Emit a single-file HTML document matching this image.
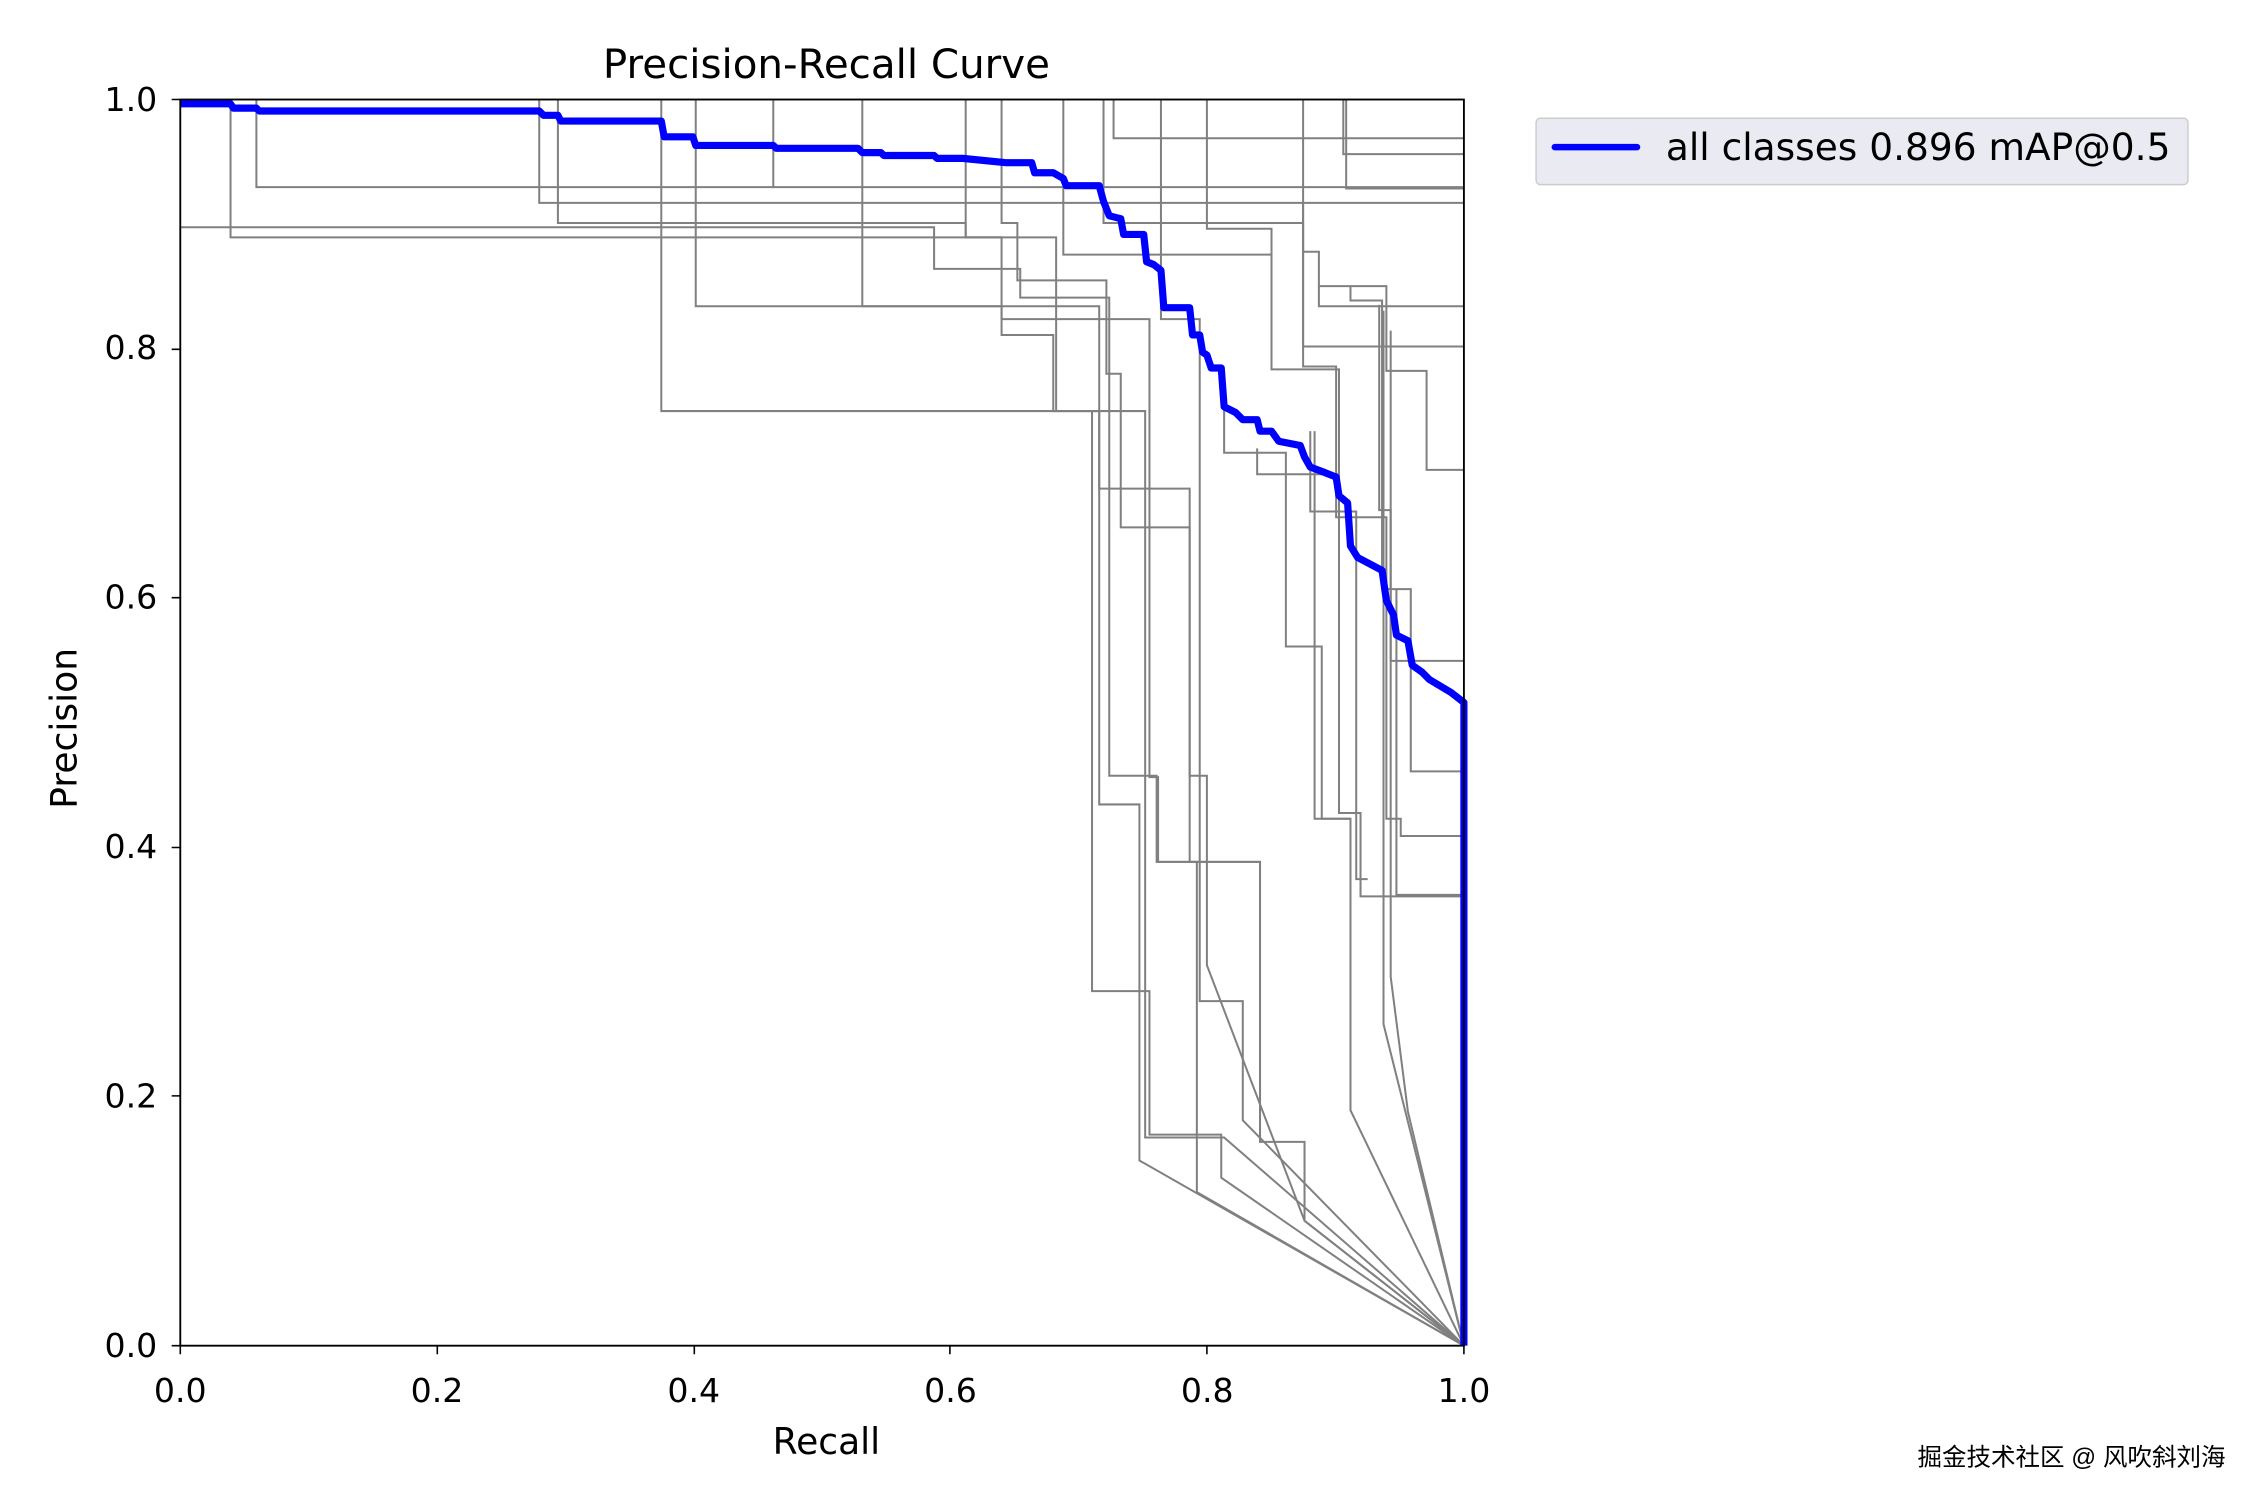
<!DOCTYPE html>
<html><head><meta charset="utf-8"><style>
html,body{margin:0;padding:0;background:#fff;}
svg{display:block;}
text{font-family:"DejaVu Sans","Liberation Sans",sans-serif;fill:#000;}
</style></head><body>
<svg width="2250" height="1500" viewBox="0 0 1560 1040" xmlns="http://www.w3.org/2000/svg">
<rect width="1560" height="1040" fill="#fff"/>
<g transform="translate(125,69) scale(0.9955,0.9954) translate(-125,-69)">
<g fill="none" stroke="#808080" stroke-width="1.4">
<path d="M125,158 H650 V187 H710 V207 H772 V540 H805 V600 H877 V795 H908 V850 L1019,937"/>
<path d="M160,69 V165 H697 V233 H733 V286 H765 V340 H828 V540 H840 V672 L908,850 L1019,937"/>
<path d="M178,69 V130 H1019"/>
<path d="M375,69 V141 H1019"/>
<path d="M388,69 V155 H672 V165 H697"/>
<path d="M460,69 V286 H735 V286 H797 V792 H852 L1019,937"/>
<path d="M484,69 V213 H697 V222 H800 V541 H806 V600 H833 V830 L1019,937"/>
<path d="M538,69 V130"/>
<path d="M600,69 V213 H765 V560 H793 V808 L1019,937"/>
<path d="M672,69 V165 H735 V286"/>
<path d="M697,69 V155 H708 V195 H770 V260 H780 V367 H828 V600 H877 V795"/>
<path d="M740,69 V177 H885 V175 V257 H932 V566 H947 V624 H1019"/>
<path d="M768,69 V155 H907 V255 H930 V360 H965 V570 H975 V582 H1019"/>
<path d="M775,69 V96 H1019"/>
<path d="M808,69 V222 H835 V697 H865 V780 L1019,937"/>
<path d="M840,69 V159 H885 V175"/>
<path d="M907,69 V175 H918 V199 H965 V258 H993 V327 H1019"/>
<path d="M907,141 V241 H1019"/>
<path d="M918,199 V213 H1019"/>
<path d="M935,69 V107 H1019"/>
<path d="M937,69 V131 H1019"/>
<path d="M940,199 V209 H962 V410 H982 V537 H1019"/>
<path d="M960,212 V355 H968 V460 H1019"/>
<path d="M852,280 V315 H895 V450 H920 V570 H940 V773 L1019,937"/>
<path d="M760,286 V690 H800 V790 H850 V820 L1019,937"/>
<path d="M915,300 V570 H940"/>
<path d="M963,216 V713 L1019,937"/>
<path d="M972,410 V623 H1019"/>
<path d="M968,230 V680 L980,774 L1019,937"/>
<path d="M912,300 V356 H944 V612 H952"/>
<path d="M875,312 V330 H932 V356"/>
</g>
<path fill="none" stroke="#0000ff" stroke-width="5" stroke-linejoin="round" d="M125,72 H160 L162,75 H178 L180,77 H375 L378,80 H388 L390,84 H460 L462,95 H482 L484,101 H538 L540,103 H597 L600,106 H613 L615,108 H650 L652,110 H670 L700,113 H718 L720,120 H733 L740,124 L742,129 H765 L768,140 L772,150 L780,152 L782,163 H796 L798,182 L803,184 L808,188 L810,214 H828 L830,233 H835 L837,245 L840,247 L843,256 H850 L852,283 L860,287 L865,292 H875 L877,300 H885 L890,307 L905,310 L908,318 L912,325 L920,328 L930,332 L932,345 L938,350 L940,380 L945,388 L962,397 L965,418 L970,428 L972,442 L980,446 L983,463 L990,468 L995,473 L1010,482 L1019,489 V937"/>
<rect x="125" y="69" width="894" height="868" fill="none" stroke="#000" stroke-width="1.3"/>
<g stroke="#000" stroke-width="1.1">
<path d="M125,937 v6 M304,937 v6 M483,937 v6 M661,937 v6 M840,937 v6 M1019,937 v6"/>
<path d="M125,937 h-6 M125,763 h-6 M125,590 h-6 M125,416 h-6 M125,243 h-6 M125,69 h-6"/>
</g>
</g>
<g font-size="23" text-anchor="middle">
<text x="125" y="972">0.0</text><text x="303" y="972">0.2</text><text x="481" y="972">0.4</text>
<text x="659" y="972">0.6</text><text x="837" y="972">0.8</text><text x="1015" y="972">1.0</text>
</g>
<g font-size="23" text-anchor="end">
<text x="109" y="941">0.0</text><text x="109" y="768">0.2</text><text x="109" y="595">0.4</text>
<text x="109" y="422">0.6</text><text x="109" y="249">0.8</text><text x="109" y="77">1.0</text>
</g>
<text x="573" y="54" font-size="28" text-anchor="middle">Precision-Recall Curve</text>
<text x="573" y="1008" font-size="25" text-anchor="middle">Recall</text>
<text transform="translate(53,505) rotate(-90)" font-size="25" text-anchor="middle">Precision</text>
<rect x="1065" y="82" width="452" height="46" rx="3" fill="#eaeaf2" stroke="#cccccc" stroke-width="1"/>
<line x1="1078" y1="102" x2="1135" y2="102" stroke="#0000ff" stroke-width="4.5" stroke-linecap="round"/>
<text x="1155" y="111" font-size="26" fill="#222">all classes 0.896 mAP@0.5</text>
<text x="1543" y="1016" font-size="17" text-anchor="end" fill="#666" style="font-family:'Liberation Sans','Noto Sans CJK SC',sans-serif">掘金技术社区 @ 风吹斜刘海</text>
</svg>
</body></html>
